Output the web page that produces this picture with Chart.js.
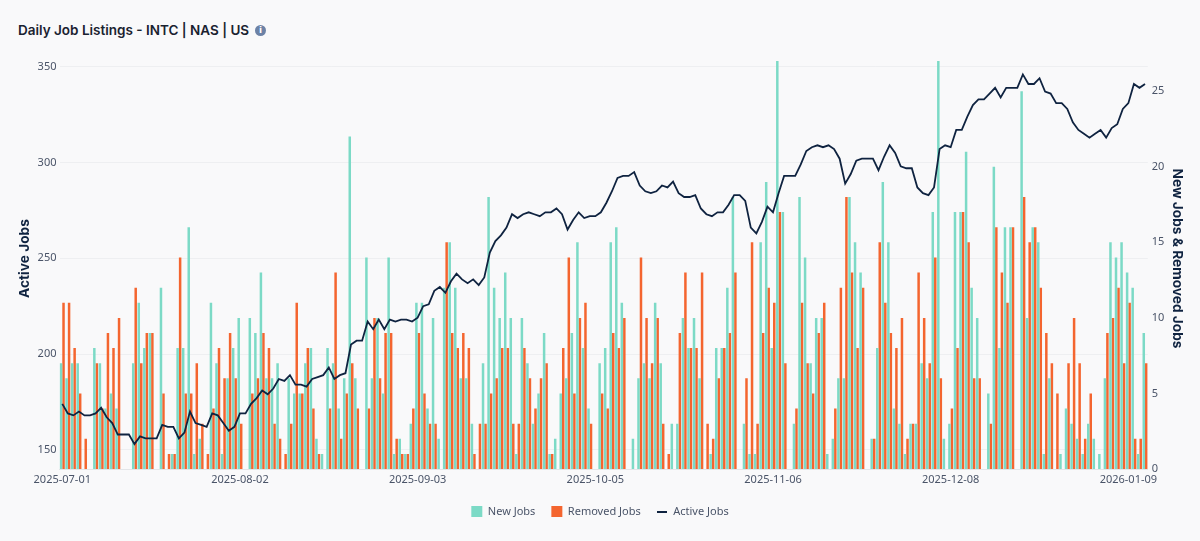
<!DOCTYPE html>
<html>
<head>
<meta charset="utf-8">
<title>Daily Job Listings</title>
<script src="https://cdn.jsdelivr.net/npm/chart.js@4"></script>
<style>
  html, body { margin: 0; padding: 0; background: #f9f9fa; }
  #wrap { position: relative; width: 1200px; height: 541px; overflow: hidden; }
  #title { position: absolute; left: 18px; top: 21.5px; font: 600 13.5px Inter, sans-serif; color: #1a2230; white-space: nowrap; }
  #info { position: absolute; left: 255px; top: 24.5px; width: 11px; height: 11px; border-radius: 50%; background: #6c82a6; color: #fff; font: 700 9px/11px "DejaVu Sans", sans-serif; text-align: center; }
  canvas { position: absolute; left: 0; top: 0; }
</style>
</head>
<body>
<div id="wrap">
  <div id="title">Daily Job Listings - INTC | NAS | US</div>
  <div id="info">i</div>
  <canvas id="chart" width="1200" height="541"></canvas>
</div>
<script>
const newJobs = [
  7,6,7,7,0,0,8,7,4,5, 4,0,0,7,11,8,9,0,12,0,
  1,8,8,16,1,2,0,11,7,1, 6,8,10,0,10,9,13,6,6,7,
  0,6,5,5,7,8,2,1,8,7, 4,6,22,6,0,14,6,10,5,14,
  1,2,1,3,11,11,4,10,2,12, 15,12,6,6,3,0,7,18,12,10,
  13,10,1,10,7,3,5,9,1,2, 5,6,9,15,8,4,0,7,8,15,
  16,11,0,2,6,7,6,11,7,0, 3,3,10,8,10,6,0,1,8,8,
  12,18,0,3,1,1,15,19,8,27, 17,0,3,18,14,7,10,10,1,2,
  6,6,18,15,13,0,2,8,19,15, 4,3,1,3,3,7,6,17,27,2,
  3,17,17,21,12,10,0,5,20,8, 16,16,0,25,10,16,15,1,6,0,
  1,4,3,2,1,3,2,1,6,15, 14,15,13,12,1,9
];
const removedJobs = [
  11,11,8,5,2,0,7,4,9,8, 10,0,0,12,7,9,9,0,5,1,
  1,14,5,5,7,3,1,4,8,6, 9,6,3,0,5,6,9,8,3,2,
  1,3,11,5,8,4,1,0,4,13, 2,5,7,4,0,4,10,6,9,9,
  2,1,1,4,9,5,3,3,0,15, 9,8,9,8,1,3,3,5,6,8,
  8,3,3,8,6,4,6,7,1,0, 8,14,5,10,11,3,0,5,4,9,
  8,10,0,0,14,10,7,10,3,1, 0,9,13,8,8,13,3,2,6,8,
  9,13,0,6,15,3,9,12,11,17, 7,0,4,11,7,5,9,11,0,4,
  12,18,13,8,12,0,2,15,11,9, 8,10,2,3,13,10,7,14,6,0,
  4,8,17,15,6,6,0,3,16,13, 11,16,0,18,15,16,12,9,7,5,
  0,7,10,7,2,5,0,0,9,10, 12,7,11,2,2,7
];
const activeJobs = [
  174,169,168,170,168,168,169,172,167,164,
  158,158,158,153,157,156,156,156,163,162,
  162,156,159,170,164,163,162,169,168,164,
  160,162,169,169,174,177,181,179,182,187,
  186,189,184,184,183,187,188,189,193,187,
  189,190,205,207,207,217,213,218,213,218,
  217,218,218,217,219,225,226,233,235,232,
  238,242,239,237,239,236,240,253,259,262,
  266,273,271,273,274,273,272,274,274,276,
  273,265,270,274,271,272,272,274,279,285,
  292,293,293,295,288,285,284,285,288,287,
  290,284,282,282,283,276,273,272,274,274,
  278,283,283,280,266,263,269,277,274,284,
  293,293,293,299,306,308,309,308,309,307,
  302,289,294,301,302,302,302,296,303,309,
  305,298,297,297,287,284,283,287,307,309,
  308,317,317,324,330,333,333,336,339,334,
  339,339,339,346,341,341,344,337,336,331,
  331,328,321,317,315,313,315,317,313,318,
  320,328,331,341,339,341
];
const leftTicks = [150, 200, 250, 300, 350];
const rightTicks = [0, 5, 10, 15, 20, 25];
const xTickLabels = ['2025-07-01', '2025-08-02', '2025-09-03', '2025-10-05', '2025-11-06', '2025-12-08', '2026-01-09'];
const legendOrder = ['New Jobs', 'Removed Jobs', 'Active Jobs'];

// one label per day, 2025-07-01 onward
const categories = newJobs.map((_, i) =>
  new Date(Date.UTC(2025, 6, 1 + i)).toISOString().slice(0, 10));

const tickFont = { family: '"Noto Sans"', size: 11 };
const titleFont = { family: 'Inter', size: 13.7, weight: '700' };
const tickColor = '#4a5468';
const navy = '#0f2340';

// short dash for the line's legend entry
const lineSwatch = document.createElement('canvas');
lineSwatch.width = 10;
lineSwatch.height = 2;
lineSwatch.getContext('2d').fillStyle = navy;
lineSwatch.getContext('2d').fillRect(0, 0, 10, 2);

new Chart(document.getElementById('chart'), {
  data: {
    labels: categories,
    datasets: [
      { type: 'line', label: 'Active Jobs', data: activeJobs, yAxisID: 'y', order: 0,
        borderColor: navy, backgroundColor: navy, borderWidth: 1.8, pointRadius: 0, tension: 0, pointStyle: lineSwatch },
      { type: 'bar', label: 'New Jobs', data: newJobs, yAxisID: 'y1', order: 1,
        backgroundColor: '#7cdac6', pointStyle: 'rect' },
      { type: 'bar', label: 'Removed Jobs', data: removedJobs, yAxisID: 'y1', order: 2,
        backgroundColor: '#f4652f', pointStyle: 'rect' }
    ]
  },
  options: {
    responsive: false,
    animation: false,
    layout: { padding: { top: 61, bottom: 14 } },
    datasets: { bar: { categoryPercentage: 0.9, barPercentage: 1 } },
    plugins: {
      tooltip: { enabled: false },
      legend: {
        position: 'bottom',
        labels: {
          usePointStyle: true,
          boxHeight: 11,
          font: tickFont,
          color: tickColor,
          padding: 16,
          sort: (a, b) => legendOrder.indexOf(a.text) - legendOrder.indexOf(b.text)
        }
      }
    },
    scales: {
      x: {
        grid: { display: false, drawTicks: false },
        border: { color: '#e3e5e8', width: 1 },
        ticks: {
          autoSkip: false, maxRotation: 0, font: tickFont, color: tickColor, padding: 4.5,
          callback: function (value) {
            const text = this.getLabelForValue(value);
            return xTickLabels.includes(text) ? text : '';
          }
        },
        afterFit: scale => { scale.height = 21; }
      },
      y: {
        position: 'left', min: 140, max: 353,
        afterBuildTicks: scale => { scale.ticks = leftTicks.map(value => ({ value })); },
        grid: { color: '#eeeff1', lineWidth: 1, drawTicks: false },
        border: { display: false },
        ticks: { font: tickFont, color: tickColor, padding: 3 },
        // the spaces lift the centred title to where the reference has it
        title: { display: true, text: '\u00a0\u00a0\u00a0\u00a0Active Jobs', font: titleFont, color: navy, padding: { top: 17, bottom: 0 } },
        afterFit: scale => { scale.width = 59.5; }
      },
      y1: {
        position: 'right', min: 0, max: 27,
        afterBuildTicks: scale => { scale.ticks = rightTicks.map(value => ({ value })); },
        grid: { display: false, drawTicks: false },
        border: { display: false },
        ticks: { font: tickFont, color: tickColor, padding: 4 },
        title: { display: true, text: 'New Jobs & Removed Jobs\u00a0\u00a0\u00a0\u00a0', font: titleFont, color: navy, padding: { top: 15, bottom: 0 } },
        afterFit: scale => { scale.width = 52.2; }
      }
    }
  }
});
</script>
</body>
</html>
